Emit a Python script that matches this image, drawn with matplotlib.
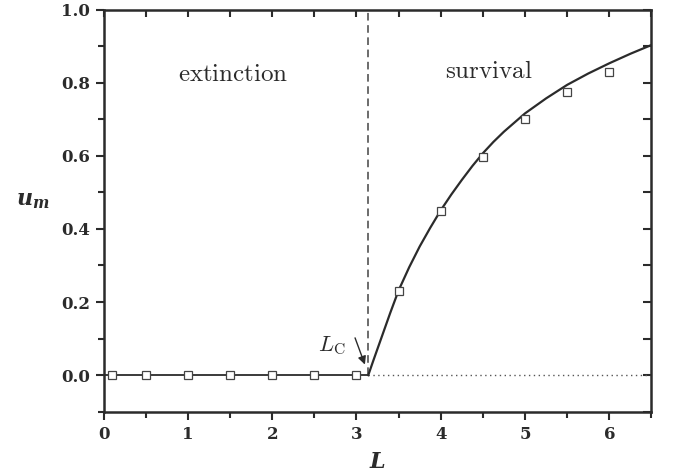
import matplotlib
matplotlib.use("Agg")
import numpy as np
from matplotlib import pyplot as plt
from matplotlib.ticker import MultipleLocator, FormatStrFormatter

plt.rcParams['mathtext.fontset'] = 'cm'
plt.rcParams['font.family'] = ['DejaVu Serif']

# simulation points (squares)
sim_L = [0.1, 0.5, 1.0, 1.5, 2.0, 2.5, 3.0, 3.5, 4.0, 4.5, 5.0, 5.5, 6.0]
sim_u = [0.0, 0.0, 0.0, 0.0, 0.0, 0.0, 0.0, 0.23, 0.45, 0.597, 0.70, 0.775, 0.829]

# theory curve
Lc = 3.14
curve_L = [3.14, 3.2, 3.3, 3.4, 3.5, 3.625, 3.75, 3.875, 4.0, 4.125, 4.25, 4.375,
           4.5, 4.625, 4.75, 5.0, 5.25, 5.5, 5.75, 6.0, 6.25, 6.5]
curve_u = [0.0, 0.04, 0.105, 0.17, 0.232, 0.295, 0.352, 0.403, 0.451, 0.494, 0.534,
           0.572, 0.607, 0.638, 0.666, 0.716, 0.757, 0.794, 0.825, 0.853, 0.879, 0.903]

ink = '#2b2b2b'

fig = plt.figure(figsize=(6.73, 4.76), dpi=100)
ax = fig.add_axes([0.154, 0.135, 0.814, 0.845])

ax.plot([0, Lc], [0, 0], color=ink, lw=1.3, zorder=2)
ax.plot([Lc, 6.5], [0, 0], color='#555555', lw=1.0, ls=(0, (1, 2.5)), zorder=2)
ax.plot([Lc, Lc], [0, 1.0], color='#444444', lw=1.1, ls=(0, (5, 3)), zorder=2)
ax.plot(curve_L, curve_u, color=ink, lw=1.6, zorder=3)
ax.plot(sim_L, sim_u, ls='none', marker='s', ms=6.3, mfc='white', mec='#444444',
        mew=0.9, zorder=4)

ax.annotate('', xy=(3.10, 0.029), xytext=(2.983, 0.102),
            arrowprops=dict(arrowstyle='-|>', color=ink, lw=1.0,
                            mutation_scale=12, shrinkA=0, shrinkB=0))
ax.text(2.71, 0.08, r'$L_{\rm C}$', fontsize=16, color=ink, ha='center', va='center')
ax.text(1.536, 0.821, r'$\rm extinction$', fontsize=18, color=ink, ha='center', va='center')
ax.text(4.57, 0.83, r'$\rm survival$', fontsize=18, color=ink, ha='center', va='center')

ax.set_xlim(0, 6.5)
ax.set_ylim(-0.1, 1.0)
ax.xaxis.set_major_locator(MultipleLocator(1))
ax.xaxis.set_minor_locator(MultipleLocator(0.5))
ax.yaxis.set_major_locator(MultipleLocator(0.2))
ax.yaxis.set_minor_locator(MultipleLocator(0.1))
ax.xaxis.set_major_formatter(FormatStrFormatter('%d'))
ax.yaxis.set_major_formatter(FormatStrFormatter('%.1f'))
ax.tick_params(which='both', direction='out', color=ink, width=1.5, labelsize=12,
               labelcolor=ink)
ax.tick_params(which='major', length=6, pad=4)
ax.tick_params(which='minor', length=4)
for lab in ax.get_xticklabels() + ax.get_yticklabels():
    lab.set_fontweight('bold')
for s in ax.spines.values():
    s.set_linewidth(1.8)
    s.set_color(ink)

# mirror ticks on top and right, pointing in
top = ax.secondary_xaxis('top')
top.xaxis.set_major_locator(MultipleLocator(0.5))
top.tick_params(direction='in', length=5, width=1.5, color=ink, labeltop=False)
top.spines['top'].set_visible(False)
right = ax.secondary_yaxis('right')
right.yaxis.set_major_locator(MultipleLocator(0.1))
right.tick_params(direction='in', length=6, width=1.5, color=ink, labelright=False)
right.spines['right'].set_visible(False)

ax.set_xlabel(r'$\mathbfit{L}$', fontsize=16, color=ink, labelpad=6,
              math_fontfamily='dejavuserif')
ax.set_ylabel(r'$\mathbfit{u}_{\mathbfit{m}}$', fontsize=16, color=ink, rotation=0,
              labelpad=20, math_fontfamily='dejavuserif')

fig.savefig('out.png', dpi=100)
